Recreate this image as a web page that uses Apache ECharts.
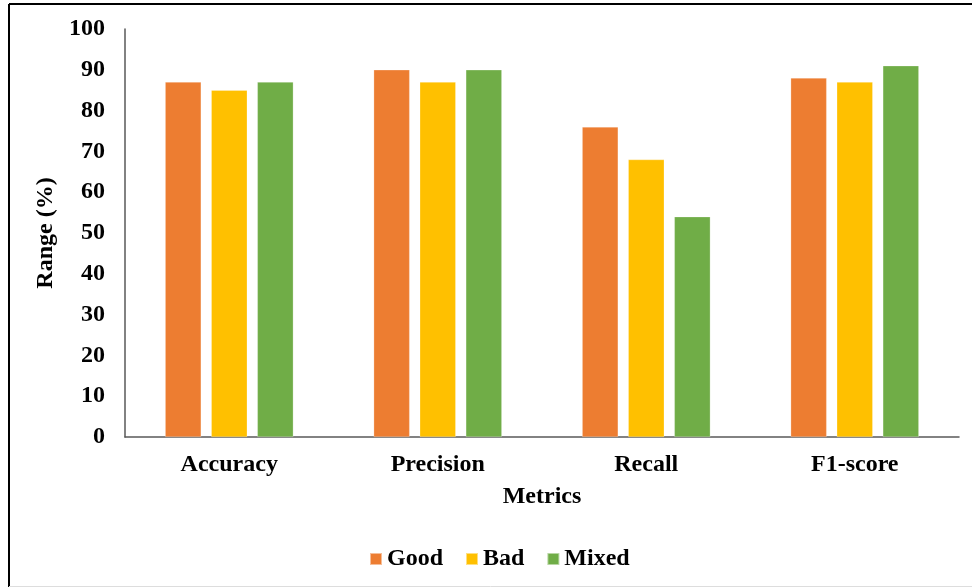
<!DOCTYPE html>
<html>
<head>
<meta charset="utf-8">
<script src="https://cdn.jsdelivr.net/npm/echarts@6/dist/echarts.min.js"></script>
<style>
html,body{margin:0;padding:0;background:#fff;}
#c{width:972px;height:588px;}
</style>
</head>
<body>
<div id="c"></div>
<script>
const categories = ['Accuracy', 'Precision', 'Recall', 'F1-score'];
const goodValues = [87, 90, 76, 88];
const badValues = [85, 87, 68, 87];
const mixedValues = [87, 90, 54, 91];
const seriesNames = ['Good', 'Bad', 'Mixed'];
const yTicks = [0, 10, 20, 30, 40, 50, 60, 70, 80, 90, 100];

const font = '"Liberation Serif", "Times New Roman", serif';
const colors = ['#ED7D31', '#FFC000', '#70AD47'];
const chart = echarts.init(document.getElementById('c'));
const mk = (name, data, color) => ({
  name, type: 'bar', data, barWidth: 36, barGap: '28%',
  itemStyle: { color, borderColor: 'rgba(255,255,255,0.5)', borderWidth: 0.5 }
});
chart.setOption({
  animation: false,
  textStyle: { fontFamily: font },
  graphic: [
    { type: 'line', shape: { x1: 9, y1: 4, x2: 972, y2: 4 }, style: { stroke: '#000', lineWidth: 2 } },
    { type: 'line', shape: { x1: 9, y1: 4, x2: 9, y2: 587 }, style: { stroke: '#000', lineWidth: 2 } },
    { type: 'line', shape: { x1: 9, y1: 586.5, x2: 972, y2: 586.5 }, style: { stroke: '#ddd', lineWidth: 1 } }
  ],
  grid: { left: 125, right: 13, top: 29, bottom: 151, containLabel: false },
  legend: {
    data: seriesNames, bottom: 12, left: 364,
    itemWidth: 12, itemHeight: 12, itemGap: 22,
    icon: 'rect',
    textStyle: { fontFamily: font, fontSize: 24, fontWeight: 'bold', color: '#000', padding: [0, 0, 0, 0] }
  },
  xAxis: {
    type: 'category', data: categories,
    name: 'Metrics', nameLocation: 'middle', nameGap: 48,
    nameTextStyle: { fontFamily: font, fontSize: 24, fontWeight: 'bold', color: '#000' },
    axisLine: { lineStyle: { color: '#595959', width: 1.5 } },
    axisTick: { show: false },
    axisLabel: { fontFamily: font, fontSize: 24, fontWeight: 'bold', color: '#000', margin: 16 }
  },
  yAxis: {
    type: 'value', min: 0, max: 100, interval: 10,
    name: 'Range (%)', nameLocation: 'middle', nameGap: 62,
    nameTextStyle: { fontFamily: font, fontSize: 24, fontWeight: 'bold', color: '#000' },
    axisLine: { show: true, lineStyle: { color: '#595959', width: 1.5 } },
    axisTick: { show: false },
    splitLine: { show: false },
    axisLabel: {
      fontFamily: font, fontSize: 24, fontWeight: 'bold', color: '#000', margin: 20,
      formatter: v => yTicks.includes(v) ? String(v) : ''
    }
  },
  series: [
    mk(seriesNames[0], goodValues, colors[0]),
    mk(seriesNames[1], badValues, colors[1]),
    mk(seriesNames[2], mixedValues, colors[2])
  ]
});
</script>
</body>
</html>
